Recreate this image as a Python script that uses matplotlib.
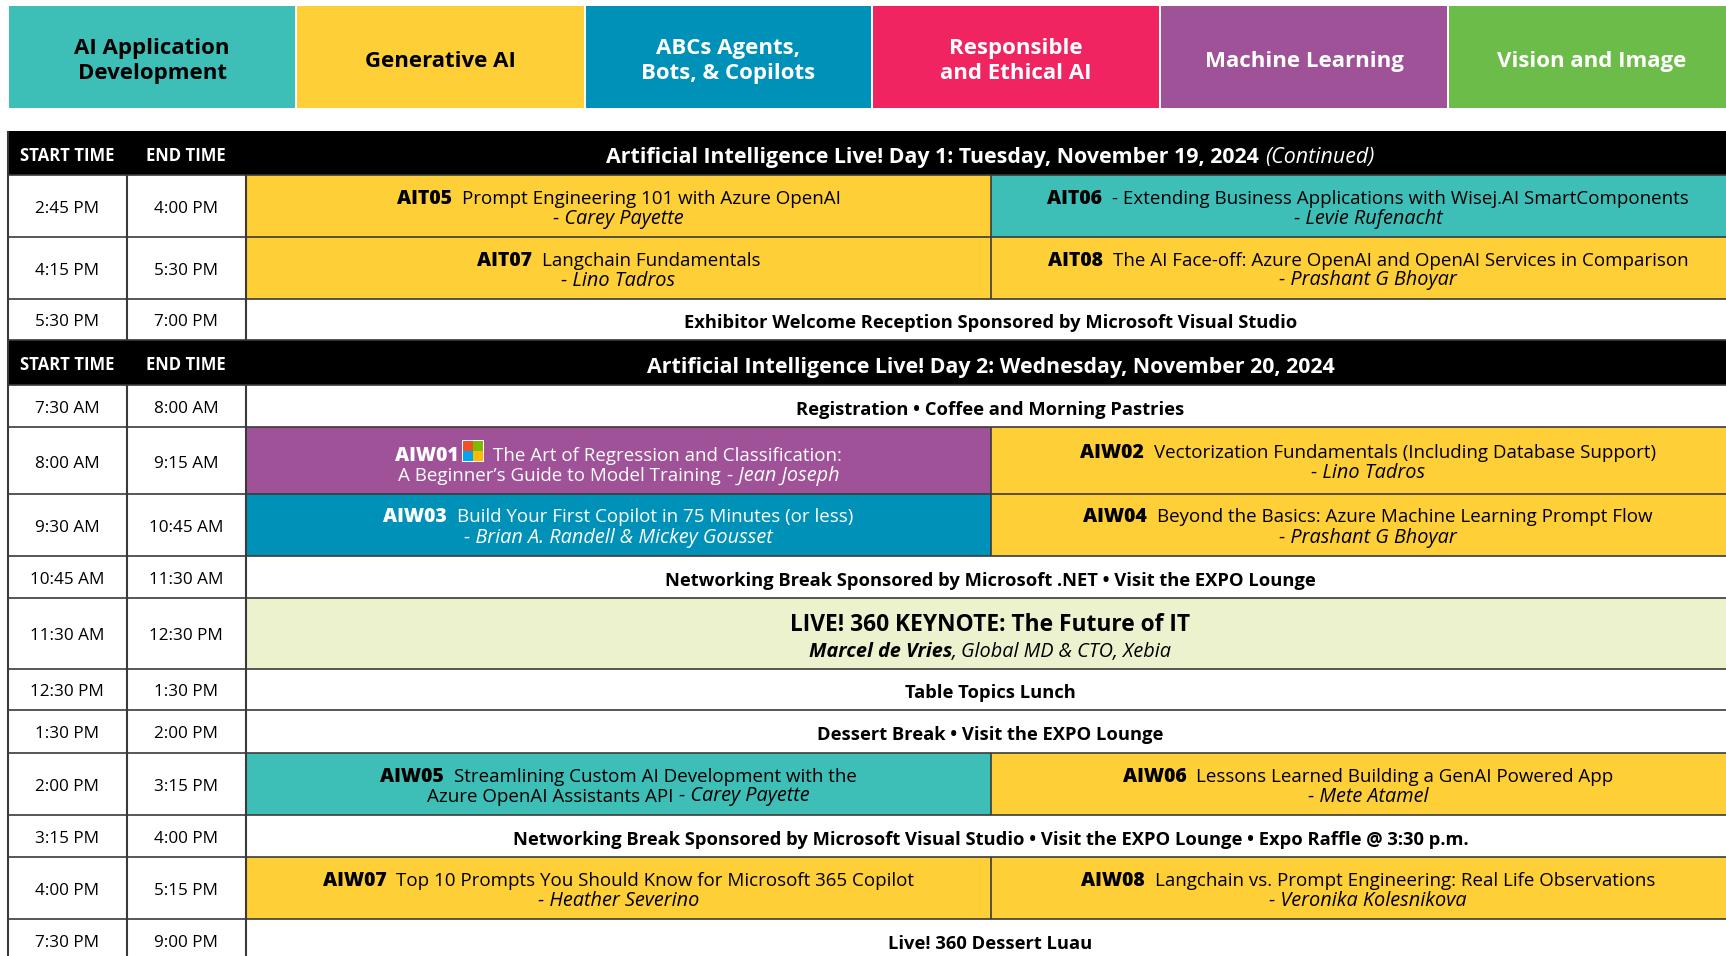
import matplotlib
matplotlib.use("Agg")
import matplotlib.pyplot as plt
from matplotlib.patches import Rectangle

plt.rcParams['font.family'] = ['Open Sans', 'DejaVu Sans']

# tracks on top
track_names = ["AI Application\nDevelopment", "Generative AI", "ABCs Agents,\nBots, & Copilots",
               "Responsible\nand Ethical AI", "Machine Learning", "Vision and Image"]
track_colors = ["#3DBFB8", "#FFCF38", "#0091B8", "#F12462", "#9F5298", "#6BBC48"]
track_text = ["black", "black", "white", "white", "white", "white"]

start_times = ["START TIME", "2:45 PM", "4:15 PM", "5:30 PM", "START TIME", "7:30 AM", "8:00 AM", "9:30 AM",
               "10:45 AM", "11:30 AM", "12:30 PM", "1:30 PM", "2:00 PM", "3:15 PM", "4:00 PM", "7:30 PM"]
end_times = ["END TIME", "4:00 PM", "5:30 PM", "7:00 PM", "END TIME", "8:00 AM", "9:15 AM", "10:45 AM",
             "11:30 AM", "12:30 PM", "1:30 PM", "2:00 PM", "3:15 PM", "4:00 PM", "5:15 PM", "9:00 PM"]

# rows with one white cell across
full_rows = [3, 5, 8, 10, 11, 13, 15]
full_text = ["Exhibitor Welcome Reception Sponsored by Microsoft Visual Studio",
             "Registration • Coffee and Morning Pastries",
             "Networking Break Sponsored by Microsoft .NET • Visit the EXPO Lounge",
             "Table Topics Lunch",
             "Dessert Break • Visit the EXPO Lounge",
             "Networking Break Sponsored by Microsoft Visual Studio • Visit the EXPO Lounge • Expo Raffle @ 3:30 p.m.",
             "Live! 360 Dessert Luau"]

# sessions, two per row
session_rows = [1, 1, 2, 2, 6, 6, 7, 7, 12, 12, 14, 14]
session_codes = ["AIT05", "AIT06", "AIT07", "AIT08", "AIW01", "AIW02", "AIW03", "AIW04", "AIW05", "AIW06", "AIW07", "AIW08"]
session_titles = ["Prompt Engineering 101 with Azure OpenAI",
                  "- Extending Business Applications with Wisej.AI SmartComponents",
                  "Langchain Fundamentals",
                  "The AI Face-off: Azure OpenAI and OpenAI Services in Comparison",
                  "The Art of Regression and Classification:",
                  "Vectorization Fundamentals (Including Database Support)",
                  "Build Your First Copilot in 75 Minutes (or less)",
                  "Beyond the Basics: Azure Machine Learning Prompt Flow",
                  "Streamlining Custom AI Development with the",
                  "Lessons Learned Building a GenAI Powered App",
                  "Top 10 Prompts You Should Know for Microsoft 365 Copilot",
                  "Langchain vs. Prompt Engineering: Real Life Observations"]
session_second = ["", "", "", "", "A Beginner’s Guide to Model Training", "", "", "",
                  "Azure OpenAI Assistants API", "", "", ""]
session_speakers = ["- Carey Payette", "- Levie Rufenacht", "- Lino Tadros", "- Prashant G Bhoyar", "- Jean Joseph",
                    "- Lino Tadros", "- Brian A. Randell & Mickey Gousset", "- Prashant G Bhoyar", "- Carey Payette",
                    "- Mete Atamel", "- Heather Severino", "- Veronika Kolesnikova"]
session_tracks = [1, 0, 1, 1, 4, 1, 2, 1, 0, 1, 1, 1]

day_titles = ["Artificial Intelligence Live! Day 1: Tuesday, November 19, 2024", "Artificial Intelligence Live! Day 2: Wednesday, November 20, 2024"]
day_suffix = ["(Continued)", ""]
keynote_title = "LIVE! 360 KEYNOTE: The Future of IT"
keynote_name = "Marcel de Vries"
keynote_role = ", Global MD & CTO, Xebia"
logo_colors = ["#F25022", "#7FBA00", "#00A4EF", "#FFB900"]

# layout in pixels
W, H = 1726, 956
edges = [131, 175, 237, 299, 340, 385, 427, 494, 556, 598, 669, 710, 753, 815, 857, 919, 961]
track_edges = [9, 297, 586, 873, 1161, 1449, 1740]
col1, col2, split = 127, 246, 991
left = 8
mid_all = 990.5
mid_left, mid_right = 618.5, 1368
fs_time = 12.3
fs_bold = 13.2
fs_reg = 13.5
fs_code = 14.0
fs_ital = 14.3
line_col = "#3a3a3a"

fig = plt.figure(figsize=(W / 100, H / 100), dpi=100)
ax = fig.add_axes([0, 0, 1, 1])
ax.set_xlim(0, W)
ax.set_ylim(H, 0)
ax.axis("off")
rend = fig.canvas.get_renderer()


def runs(cx, y, parts, color="black"):
    # parts: (text, weight, style, size) or a number for a gap in pixels; centred as one line on cx, y is the baseline
    items = []
    total = 0
    for p in parts:
        if isinstance(p, (int, float)):
            items.append((None, p))
            total += p
            continue
        t = ax.text(0, y, p[0], fontsize=p[3], fontweight=p[1], fontstyle=p[2], color=color, va="baseline", ha="left", zorder=5)
        w = t.get_window_extent(rend).width
        items.append((t, w))
        total += w
    x = cx - total / 2
    for t, w in items:
        if t is not None:
            t.set_x(x)
        x += w


# track boxes
for i in range(6):
    ax.add_patch(Rectangle((track_edges[i], 6), track_edges[i + 1] - track_edges[i] - 2, 102, color=track_colors[i], lw=0))
    ax.text((track_edges[i] + track_edges[i + 1] - 2) / 2 if i < 5 else 1592, 61,
            track_names[i], ha="center", va="center", fontsize=16.0, fontweight="bold", color=track_text[i], linespacing=1.27)

# row fills
for i in [0, 4]:
    ax.add_patch(Rectangle((left, edges[i]), W, edges[i + 1] - edges[i], color="black", lw=0, zorder=1))
for k in range(len(session_rows)):
    r = session_rows[k]
    x0 = col2 if k % 2 == 0 else split
    x1 = split if k % 2 == 0 else W
    ax.add_patch(Rectangle((x0, edges[r]), x1 - x0, edges[r + 1] - edges[r], color=track_colors[session_tracks[k]], lw=0, zorder=1))
ax.add_patch(Rectangle((col2, edges[9]), W - col2, edges[10] - edges[9], color="#ECF2CD", lw=0, zorder=1))

# grid
for e in edges[1:-1]:
    ax.plot([left, W], [e, e], color=line_col, lw=1.2, zorder=2, solid_capstyle="butt")
for x, skip in [(left, []), (col1, [0, 4]), (col2, [0, 4])]:
    for r in range(len(edges) - 1):
        if r not in skip:
            ax.plot([x, x], [edges[r], edges[r + 1]], color=line_col, lw=1.5, zorder=2, solid_capstyle="butt")
for r in session_rows[::2]:
    ax.plot([split, split], [edges[r], edges[r + 1]], color=line_col, lw=1.2, zorder=2, solid_capstyle="butt")

# times
for r in range(len(start_times)):
    yc = (edges[r] + edges[r + 1]) / 2 + 3
    head = r in [0, 4]
    ax.text(67, yc, start_times[r], ha="center", va="center", zorder=3, color="white" if head else "black",
            fontsize=12.0 if head else fs_time, fontweight="bold" if head else "normal")
    ax.text(186, yc, end_times[r], ha="center", va="center", zorder=3, color="white" if head else "black",
            fontsize=12.0 if head else fs_time, fontweight="bold" if head else "normal")

# day titles
for n, r in enumerate([0, 4]):
    parts = [(day_titles[n], "bold", "normal", 15.4)]
    if day_suffix[n]:
        parts += [6, (day_suffix[n], "normal", "italic", 15.4)]
    runs(mid_all, (edges[r] + edges[r + 1]) / 2 + 10, parts, color="white")

for r, txt in zip(full_rows, full_text):
    runs(mid_all, (edges[r] + edges[r + 1]) / 2 + 9, [(txt, "bold", "normal", fs_bold)])

# sessions
for k in range(len(session_codes)):
    r = session_rows[k]
    cx = mid_left if k % 2 == 0 else mid_right
    col = "white" if session_tracks[k] in (2, 4) else "black"
    yc = (edges[r] + edges[r + 1]) / 2
    if session_codes[k] == "AIW01":
        yc += 3
    gap = 35 if session_codes[k] == "AIW01" else 10
    runs(cx, yc - 2.5, [(session_codes[k], 800, "normal", fs_code), gap, (session_titles[k], "normal", "normal", fs_reg)], color=col)
    if session_second[k]:
        runs(cx, yc + 17.5, [(session_second[k], "normal", "normal", fs_reg), 6, (session_speakers[k], "normal", "italic", fs_ital)], color=col)
    else:
        runs(cx, yc + 17.5, [(session_speakers[k], "normal", "italic", fs_ital)], color=col)
    if session_codes[k] == "AIW01":
        # small windows logo next to the code
        lx, ly = 463, 441
        ax.add_patch(Rectangle((lx - 1, ly - 1), 22, 22, color="white", lw=0, zorder=3))
        for q in range(4):
            ax.add_patch(Rectangle((lx + (q % 2) * 10, ly + (q // 2) * 10), 10, 10, color=logo_colors[q], lw=0, zorder=4))

# keynote
runs(mid_all, 631, [(keynote_title, "bold", "normal", 16.35)])
runs(mid_all, 657, [(keynote_name, "bold", "italic", 14.3), (keynote_role, "normal", "italic", 14.3)])

fig.savefig("out.png", dpi=100)
